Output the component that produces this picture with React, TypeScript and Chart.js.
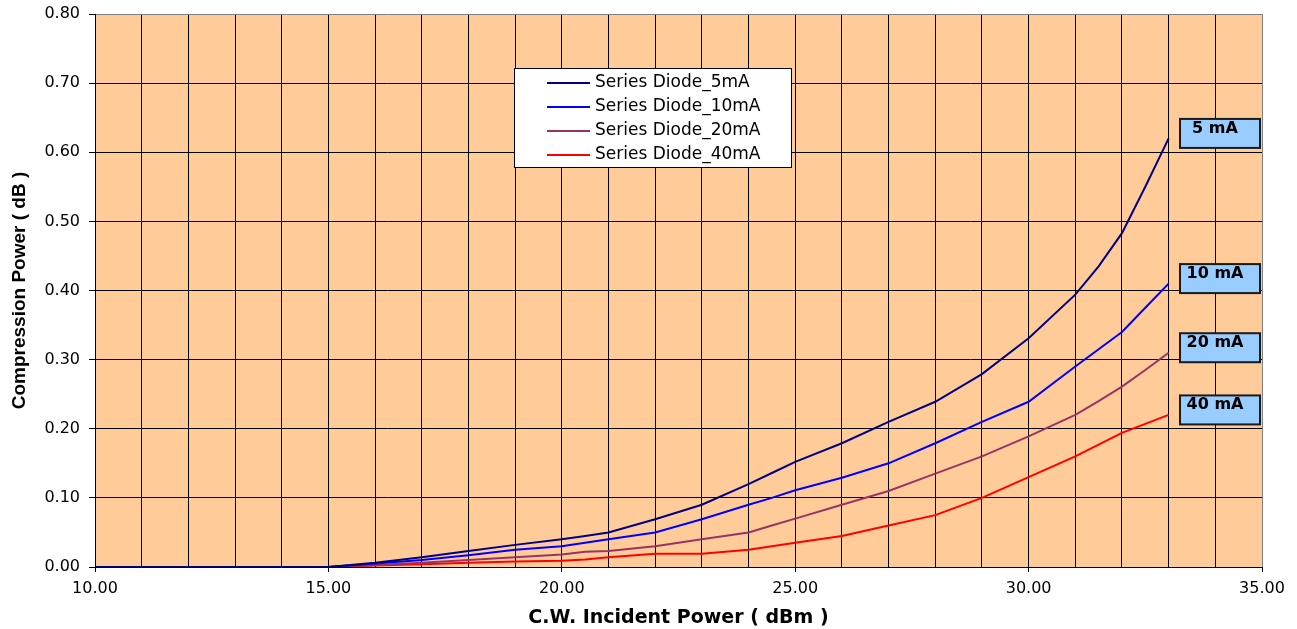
import React, { useEffect, useRef } from 'react';
import { Chart, registerables } from 'chart.js';

Chart.register(...registerables);

// C.W. incident power (dBm)
const xValues = [10, 11, 12, 13, 14, 15, 16, 17, 18, 19, 20, 20.5, 21, 22, 23, 24, 24.5, 25, 26, 27, 28, 29, 30, 31, 31.5, 32, 32.5, 33];

// Compression power (dB)
const diode5mA = [0, 0, 0, 0, 0, 0, 0.006, 0.014, 0.023, 0.032, 0.040, 0.045, 0.050, 0.069, 0.090, 0.120, 0.136, 0.152, 0.179, 0.210, 0.239, 0.279, 0.331, 0.394, 0.435, 0.483, 0.550, 0.620];
const diode10mA = [0, 0, 0, 0, 0, 0, 0.005, 0.010, 0.017, 0.025, 0.030, 0.035, 0.040, 0.050, 0.069, 0.090, 0.100, 0.111, 0.129, 0.150, 0.179, 0.210, 0.239, 0.290, 0.315, 0.340, 0.375, 0.410];
const diode20mA = [0, 0, 0, 0, 0, 0, 0.003, 0.006, 0.010, 0.014, 0.018, 0.022, 0.023, 0.030, 0.040, 0.050, 0.060, 0.070, 0.090, 0.110, 0.135, 0.160, 0.189, 0.220, 0.240, 0.261, 0.285, 0.310];
const diode40mA = [0, 0, 0, 0, 0, 0, 0.002, 0.004, 0.006, 0.008, 0.009, 0.011, 0.014, 0.019, 0.019, 0.025, 0.030, 0.035, 0.045, 0.060, 0.075, 0.100, 0.130, 0.160, 0.177, 0.194, 0.207, 0.220];

const seriesNames = ['Series Diode_5mA', 'Series Diode_10mA', 'Series Diode_20mA', 'Series Diode_40mA'];
const seriesColors = ['#000080', '#0000FF', '#993366', '#FF0000'];
const endLabels = ['5 mA', '10 mA', '20 mA', '40 mA'];

const xTitle = 'C.W. Incident Power ( dBm )';
const yTitle = 'Compression Power ( dB )';

const FONT = 'DejaVu Sans';

export default function App() {
  const ref = useRef<HTMLCanvasElement>(null);

  useEffect(() => {
    const canvas = ref.current;
    if (!canvas) return;
    const allSeries = [diode5mA, diode10mA, diode20mA, diode40mA];

    const plotBg = {
      id: 'plotBg',
      beforeDraw(chart: any) {
        const { ctx, chartArea: a } = chart;
        ctx.save();
        ctx.fillStyle = '#FFFFFF';
        ctx.fillRect(0, 0, chart.width, chart.height);
        ctx.fillStyle = '#FFCC99';
        ctx.fillRect(a.left, a.top, a.right - a.left, a.bottom - a.top);
        ctx.restore();
      },
    };

    const overlay = {
      id: 'overlay',
      afterDatasetsDraw(chart: any) {
        const { ctx, chartArea: a } = chart;
        const yScale = chart.scales.y;
        ctx.save();
        // legend box
        const lx = a.left + 419;
        const ly = a.top + 54;
        const lw = 277;
        const lh = 99;
        ctx.fillStyle = '#FFFFFF';
        ctx.fillRect(lx, ly, lw, lh);
        ctx.strokeStyle = '#000000';
        ctx.lineWidth = 1;
        ctx.strokeRect(Math.round(lx) + 0.5, Math.round(ly) + 0.5, lw, lh);
        ctx.font = `17px "${FONT}"`;
        ctx.textBaseline = 'middle';
        ctx.textAlign = 'left';
        seriesNames.forEach((name, i) => {
          const ry = ly + 15 + i * 24;
          ctx.strokeStyle = seriesColors[i];
          ctx.lineWidth = 2;
          ctx.beginPath();
          ctx.moveTo(lx + 33, ry);
          ctx.lineTo(lx + 76, ry);
          ctx.stroke();
          ctx.fillStyle = '#000000';
          ctx.fillText(name, lx + 81, ry);
        });
        // end labels
        endLabels.forEach((label, i) => {
          const s = allSeries[i];
          const yc = yScale.getPixelForValue(s[s.length - 1]) - 5;
          const bw = 80;
          const bh = 29;
          const bx = a.right - 82;
          const by = yc - bh / 2;
          ctx.fillStyle = '#99CCFF';
          ctx.fillRect(bx, by, bw, bh);
          ctx.strokeStyle = '#1a1a1a';
          ctx.lineWidth = 2;
          ctx.strokeRect(bx, by, bw, bh);
          ctx.fillStyle = '#000000';
          ctx.font = `bold 16px "${FONT}"`;
          ctx.textAlign = 'center';
          ctx.textBaseline = 'middle';
          ctx.fillText(label, bx + bw / 2 - 5, yc - 5);
        });
        ctx.restore();
      },
    };

    const chart = new Chart(canvas, {
      type: 'line',
      data: {
        datasets: allSeries.map((s, i) => ({
          label: seriesNames[i],
          data: xValues.map((x, j) => ({ x, y: s[j] })),
          borderColor: seriesColors[i],
          backgroundColor: seriesColors[i],
          borderWidth: 2,
          pointRadius: 0,
          tension: 0,
          fill: false,
        })),
      },
      options: {
        responsive: false,
        animation: false,
        events: [],
        layout: { padding: { left: 0, right: 35, top: 14, bottom: 0 } },
        plugins: {
          legend: { display: false },
          tooltip: { enabled: false },
        },
        scales: {
          x: {
            type: 'linear',
            min: 10,
            max: 35,
            ticks: {
              stepSize: 1,
              autoSkip: false,
              maxRotation: 0,
              padding: 7,
              color: '#000000',
              font: { family: FONT, size: 16 },
              callback: (v: any) => (Number(v) % 5 === 0 ? Number(v).toFixed(2) : ''),
            },
            grid: {
              color: (c: any) => (c.tick && c.tick.value === 35 ? '#808080' : '#000000'),
              lineWidth: 1,
              tickLength: 5,
              tickColor: (c: any) => (c.tick && c.tick.value % 5 === 0 ? '#000000' : 'rgba(0,0,0,0)'),
            },
            border: { color: '#000000', width: 1 },
            title: {
              display: true,
              text: xTitle,
              color: '#000000',
              font: { family: FONT, size: 19, weight: 'bold' },
              padding: 0,
            },
            afterFit: (s: any) => {
              s.height = 62;
            },
          },
          y: {
            type: 'linear',
            min: 0,
            max: 0.8,
            ticks: {
              stepSize: 0.1,
              padding: 9,
              color: '#000000',
              font: { family: FONT, size: 16 },
              callback: (v: any) => Number(v).toFixed(2),
            },
            grid: {
              color: (c: any) => (c.tick && c.tick.value > 0.79 ? '#808080' : '#000000'),
              lineWidth: 1,
              tickLength: 6,
              tickColor: '#000000',
            },
            border: { color: '#000000', width: 1 },
            title: {
              display: true,
              text: yTitle,
              color: '#000000',
              font: { family: 'Liberation Sans', size: 19, weight: 'bold' },
              padding: { top: 8, bottom: 0 },
            },
            afterFit: (s: any) => {
              s.width = 95;
              s.paddingTop = 0;
              s.paddingBottom = 0;
            },
          },
        },
      },
      plugins: [plotBg, overlay],
    } as any);

    return () => chart.destroy();
  }, []);

  return (
    <div style={{ position: 'absolute', left: 0, top: 0, width: 1297, height: 629, background: '#FFFFFF' }}>
      <canvas ref={ref} width={1297} height={629} style={{ display: 'block', width: 1297, height: 629 }} />
    </div>
  );
}
